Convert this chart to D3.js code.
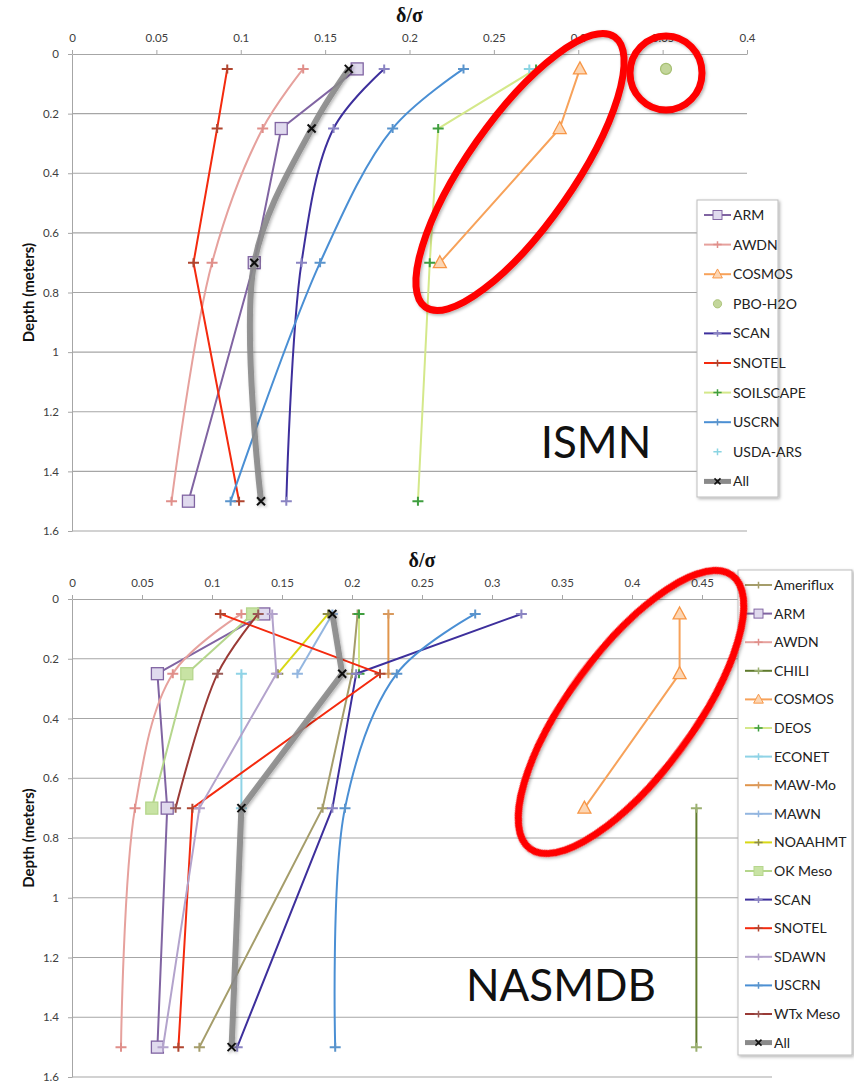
<!DOCTYPE html>
<meta charset="utf-8">
<head>
  <title>delta/sigma by depth</title>
</head>

<style>
body {
  margin: 0;
  background: #fff;
  font-family: Lato, "Open Sans", sans-serif;
}
.tick text { font-family: Lato, sans-serif; font-size: 11.5px; fill: #404040; }
.tick line, .domain { stroke: #a6a6a6; }
</style>

<body>
  <div id="content">
    <svg width="854" height="1083"></svg>
  </div>

  <script src="https://cdnjs.cloudflare.com/ajax/libs/d3/7.8.5/d3.min.js"></script>

  <script>
// Depths of the sensors (m) and axis ticks
var depths = [0.05, 0.25, 0.7, 1.5];
var depthTicks = [0, 0.2, 0.4, 0.6, 0.8, 1, 1.2, 1.4, 1.6];
var ismnTicks = [0, 0.05, 0.1, 0.15, 0.2, 0.25, 0.3, 0.35, 0.4];
var nasmdbTicks = [0, 0.05, 0.1, 0.15, 0.2, 0.25, 0.3, 0.35, 0.4, 0.45];

// ISMN networks, values at each depth (null = no data)
var ismnNames = ['ARM', 'AWDN', 'COSMOS', 'PBO-H2O', 'SCAN', 'SNOTEL', 'SOILSCAPE', 'USCRN', 'USDA-ARS', 'All'];
var ismnValues = [
  [0.169, 0.124, 0.108, 0.069],
  [0.137, 0.113, 0.083, 0.059],
  [0.301, 0.289, 0.218, null],
  [0.352, null, null, null],
  [0.185, 0.155, 0.136, 0.127],
  [0.092, 0.086, 0.072, 0.099],
  [0.275, 0.217, 0.212, 0.205],
  [0.232, 0.190, 0.147, 0.094],
  [0.271, null, null, null],
  [0.164, 0.142, 0.108, 0.112]
];

// NASMDB networks
var nasmdbNames = ['Ameriflux', 'ARM', 'AWDN', 'CHILI', 'COSMOS', 'DEOS', 'ECONET', 'MAW-Mo', 'MAWN', 'NOAAHMT',
  'OK Meso', 'SCAN', 'SNOTEL', 'SDAWN', 'USCRN', 'WTx Meso', 'All'];
var nasmdbValues = [
  [0.204, 0.200, 0.179, 0.091],
  [0.137, 0.061, 0.068, 0.061],
  [0.121, 0.072, 0.045, 0.035],
  [null, null, 0.446, 0.446],
  [0.434, 0.434, 0.366, null],
  [0.205, 0.205, null, null],
  [null, 0.121, 0.121, null],
  [0.226, 0.226, null, null],
  [0.186, 0.161, null, null],
  [0.183, 0.147, null, null],
  [0.129, 0.082, 0.057, null],
  [0.321, 0.203, 0.186, 0.118],
  [0.106, 0.220, 0.086, 0.076],
  [0.143, 0.146, 0.091, 0.065],
  [0.288, 0.232, 0.195, 0.188],
  [0.133, 0.104, 0.074, null],
  [0.186, 0.193, 0.121, 0.114]
];

// look of each network
var styles = {
  'Ameriflux': {color: '#a59d6b', marker: 'plus', mcolor: '#a59d6b'},
  'ARM':       {color: '#8064a2', marker: 'square', mcolor: '#8064a2', fill: '#e0daee'},
  'AWDN':      {color: '#e6a19d', marker: 'plus', mcolor: '#e08f8a'},
  'CHILI':     {color: '#5f7a2c', marker: 'plus', mcolor: '#9bb070'},
  'COSMOS':    {color: '#f7a25a', marker: 'triangle', mcolor: '#f79646', fill: '#fcd6b4'},
  'PBO-H2O':   {color: '#9bbb59', marker: 'circle', mcolor: '#a6bf72', fill: '#c3d69b', noline: true},
  'SCAN':      {color: '#3d2f9c', marker: 'plus', mcolor: '#8a84c2'},
  'SNOTEL':    {color: '#f42a0e', marker: 'plus', mcolor: '#b0452f'},
  'SOILSCAPE': {color: '#d4e88a', marker: 'plus', mcolor: '#3f9e3f'},
  'DEOS':      {color: '#d4e88a', marker: 'plus', mcolor: '#3f9e3f'},
  'ECONET':    {color: '#8fd3e6', marker: 'plus', mcolor: '#8fd3e6'},
  'MAW-Mo':    {color: '#e0954c', marker: 'plus', mcolor: '#d99a5e'},
  'MAWN':      {color: '#93b6e0', marker: 'plus', mcolor: '#93b6e0'},
  'NOAAHMT':   {color: '#d8d816', marker: 'plus', mcolor: '#8c8c4a'},
  'OK Meso':   {color: '#b5d68c', marker: 'square', mcolor: '#b5d68c', fill: '#c8e3a4'},
  'SDAWN':     {color: '#b3a3cc', marker: 'plus', mcolor: '#b3a3cc'},
  'USCRN':     {color: '#4a8fd4', marker: 'plus', mcolor: '#5a94cc'},
  'USDA-ARS':  {color: '#8ad4e2', marker: 'plus', mcolor: '#8ad4e2', noline: true},
  'WTx Meso':  {color: '#9a3a36', marker: 'plus', mcolor: '#9a5a56'},
  'All':       {color: '#8a8a8a', marker: 'x', mcolor: '#111', width: 6}
};
var ismnSmooth = ['AWDN', 'USCRN', 'All', 'SCAN'];
var nasmdbSmooth = ['AWDN', 'USCRN', 'WTx Meso'];

var svg = d3.select('#content svg');

var defs = svg.append('defs');
var shadow = defs.append('filter').attr('id', 'shadow')
  .attr('x', '-20%').attr('y', '-20%').attr('width', '140%').attr('height', '140%');
shadow.append('feDropShadow').attr('dx', 1.5).attr('dy', 1.5)
  .attr('stdDeviation', 1.5).attr('flood-color', '#000').attr('flood-opacity', 0.3);

function drawMarker(g, type, st) {
  if (type == 'plus') {
    g.append('path').attr('d', 'M-5.5,0H5.5M0,-4.5V4.5')
      .attr('stroke', st.mcolor).attr('stroke-width', 2).attr('fill', 'none');
  } else if (type == 'square') {
    g.append('rect').attr('x', -6).attr('y', -6).attr('width', 12).attr('height', 12)
      .attr('fill', st.fill).attr('stroke', st.mcolor).attr('stroke-width', 1.3);
  } else if (type == 'triangle') {
    g.append('path').attr('d', 'M0,-7L6.5,5H-6.5Z')
      .attr('fill', st.fill).attr('stroke', st.mcolor).attr('stroke-width', 1.3);
  } else if (type == 'circle') {
    g.append('circle').attr('r', 5.5)
      .attr('fill', st.fill).attr('stroke', st.mcolor).attr('stroke-width', 1.2);
  } else if (type == 'x') {
    g.append('path').attr('d', 'M-4,-4L4,4M-4,4L4,-4')
      .attr('stroke', st.mcolor).attr('stroke-width', 2).attr('fill', 'none');
  }
}

function drawPanel(opt) {
  var g = svg.append('g');

  var x = d3.scaleLinear().domain([0, opt.xmax]).range([opt.left, opt.right]);
  var y = d3.scaleLinear().domain([0, 1.6]).range([opt.top, opt.bottom]);

  // grid
  g.selectAll('.grid').data(depthTicks.slice(1)).enter().append('line')
    .attr('x1', opt.left).attr('x2', opt.right)
    .attr('y1', function(d) { return y(d); }).attr('y2', function(d) { return y(d); })
    .attr('stroke', '#a6a6a6').attr('stroke-width', 1.2);

  g.append('g').attr('transform', 'translate(0,' + opt.top + ')')
    .call(d3.axisTop(x).tickValues(opt.ticks).tickSize(4).tickSizeOuter(0).tickPadding(8)
      .tickFormat(d3.format('')));
  g.append('g').attr('transform', 'translate(' + opt.left + ',0)')
    .call(d3.axisLeft(y).tickValues(depthTicks).tickSize(4).tickSizeOuter(0).tickPadding(9)
      .tickFormat(d3.format('')));

  // titles
  g.append('text').attr('x', (opt.left + opt.right) / 2).attr('y', opt.top - 32)
    .attr('text-anchor', 'middle')
    .style('font-family', '"Liberation Serif", serif').style('font-weight', 'bold').style('font-size', '20px')
    .attr('fill', '#111').text('δ/σ');
  g.append('text')
    .attr('transform', 'translate(34,' + ((opt.top + opt.bottom) / 2) + ') rotate(-90)')
    .attr('text-anchor', 'middle')
    .style('font-weight', 'bold').style('font-size', '15px').attr('fill', '#111')
    .text('Depth (meters)');

  g.append('text').attr('x', opt.labelX).attr('y', opt.labelY).attr('text-anchor', 'middle')
    .style('font-size', '44px').attr('fill', '#111').text(opt.label);

  // series
  opt.names.forEach(function(name, i) {
    var st = styles[name];
    var pts = [];
    opt.values[i].forEach(function(v, j) {
      if (v != null) pts.push([v, depths[j]]);
    });
    var sg = g.append('g');
    if (name == 'All') sg.attr('filter', 'url(#shadow)');
    if (!st.noline && pts.length > 1) {
      var line = d3.line()
        .x(function(p) { return x(p[0]); })
        .y(function(p) { return y(p[1]); })
        .curve(opt.smooth.indexOf(name) >= 0 ? d3.curveCatmullRom.alpha(0.5) : d3.curveLinear);
      sg.append('path').attr('d', line(pts))
        .attr('fill', 'none').attr('stroke', st.color)
        .attr('stroke-width', st.width || 2).attr('stroke-linejoin', 'round')
        .attr('stroke-opacity', name == 'All' ? 0.9 : 1);
    }
    pts.forEach(function(p) {
      var m = sg.append('g').attr('transform', 'translate(' + x(p[0]) + ',' + y(p[1]) + ')');
      drawMarker(m, st.marker, st);
    });
  });

  // legend
  var lg = g.append('g');
  lg.append('rect').attr('x', opt.legX).attr('y', opt.legY)
    .attr('width', opt.legW).attr('height', opt.legH)
    .attr('fill', '#fff').attr('stroke', '#bdbdbd').attr('filter', 'url(#shadow)');
  opt.names.forEach(function(name, i) {
    var st = styles[name];
    var ly = opt.legY + opt.legFirst + i * opt.legStep;
    var lx = opt.legX + 7;
    if (!st.noline) {
      lg.append('line').attr('x1', lx).attr('x2', lx + 27).attr('y1', ly).attr('y2', ly)
        .attr('stroke', st.color).attr('stroke-width', name == 'All' ? 5 : 2);
    }
    var m = lg.append('g').attr('transform', 'translate(' + (lx + 13.5) + ',' + ly + ') scale(0.75)');
    drawMarker(m, st.marker, st);
    lg.append('text').attr('x', lx + 29).attr('y', ly).attr('dy', '0.35em')
      .style('font-size', '14px').attr('fill', '#222').text(name);
  });

  return {x: x, y: y};
}

drawPanel({
  names: ismnNames, values: ismnValues, smooth: ismnSmooth,
  xmax: 0.4, ticks: ismnTicks,
  left: 72, right: 747, top: 54, bottom: 531,
  label: 'ISMN', labelX: 596, labelY: 458,
  legX: 697, legY: 200, legW: 81, legH: 297, legFirst: 15, legStep: 29.6
});

drawPanel({
  names: nasmdbNames, values: nasmdbValues, smooth: nasmdbSmooth,
  xmax: 0.5, ticks: nasmdbTicks,
  left: 72, right: 772, top: 599, bottom: 1077,
  label: 'NASMDB', labelX: 561, labelY: 1001,
  legX: 738, legY: 570, legW: 114, legH: 485, legFirst: 15, legStep: 28.6
});

// red highlight rings drawn over the charts
var rings = svg.append('g').attr('fill', 'none').attr('stroke', '#ff0000').attr('stroke-width', 7)
  .attr('filter', 'url(#shadow)');
rings.append('ellipse').attr('rx', 165).attr('ry', 53)
  .attr('transform', 'translate(520,172) rotate(-55)');
rings.append('ellipse').attr('rx', 36).attr('ry', 37)
  .attr('transform', 'translate(666,73)');
rings.append('ellipse').attr('rx', 170).attr('ry', 62)
  .attr('transform', 'translate(631,712) rotate(-53.5)');
  </script>
</body>
</html>
